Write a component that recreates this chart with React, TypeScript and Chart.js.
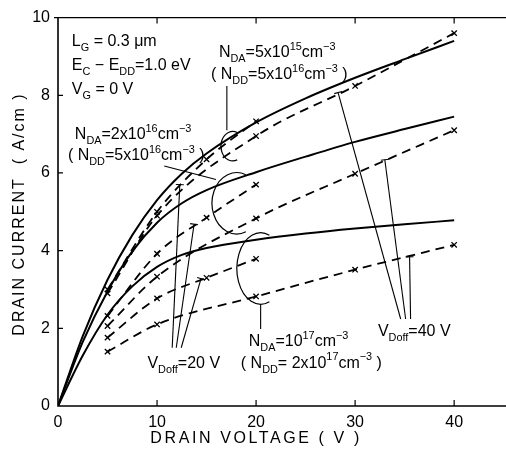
import { useEffect, useRef } from 'react';
import { Chart, registerables } from 'chart.js';

Chart.register(...registerables);

// ---- data (A/cm vs V) ----
const xTickValues = [0, 10, 20, 30, 40];
const yTickValues = [0, 2, 4, 6, 8, 10];

const solidX = [0, 2.5, 5, 7.5, 10, 12.5, 15, 20, 25, 30, 35, 40];
const solidNDA5e15 = [0, 1.8, 3.25, 4.4, 5.3, 5.98, 6.5, 7.3, 7.92, 8.45, 8.93, 9.4];
const solidNDA2e16 = [0, 1.65, 2.95, 3.98, 4.72, 5.22, 5.56, 6.02, 6.42, 6.8, 7.13, 7.45];
const solidNDA1e17 = [0, 1.3, 2.35, 3.08, 3.58, 3.89, 4.07, 4.28, 4.44, 4.57, 4.68, 4.78];

const voff20X = [5, 10, 15, 20];
const voff20NDA5e15 = [3.0, 5.0, 6.35, 7.33];
const voff20NDA2e16 = [2.32, 3.92, 4.85, 5.7];
const voff20NDA1e17 = [1.76, 2.77, 3.3, 3.79];

const voff40X = [5, 10, 20, 30, 40];
const voff40NDA5e15 = [2.9, 4.9, 6.95, 8.24, 9.6];
const voff40NDA2e16 = [2.06, 3.33, 4.83, 5.98, 7.1];
const voff40NDA1e17 = [1.4, 2.1, 2.82, 3.51, 4.15];

const FONT = '"Liberation Sans", "DejaVu Sans", sans-serif';

type Seg = [string, number]; // 0 normal, 1 subscript, 2 superscript

// annotation layout (in data units)
const texts: { x: number; y: number; segs: Seg[] }[] = [
  { x: 1.4, y: 9.26, segs: [['L', 0], ['G', 1], [' = 0.3 μm', 0]] },
  { x: 1.4, y: 8.65, segs: [['E', 0], ['C', 1], [' − E', 0], ['DD', 1], ['=1.0 eV', 0]] },
  { x: 1.4, y: 8.04, segs: [['V', 0], ['G', 1], [' = 0 V', 0]] },
  { x: 16.25, y: 8.98, segs: [['N', 0], ['DA', 1], ['=5x10', 0], ['15', 2], ['cm', 0], ['−3', 2]] },
  { x: 15.45, y: 8.42, segs: [['( N', 0], ['DD', 1], ['=5x10', 0], ['16', 2], ['cm', 0], ['−3', 2], [' )', 0]] },
  { x: 1.7, y: 6.87, segs: [['N', 0], ['DA', 1], ['=2x10', 0], ['16', 2], ['cm', 0], ['−3', 2]] },
  { x: 1.0, y: 6.34, segs: [['( N', 0], ['DD', 1], ['=5x10', 0], ['16', 2], ['cm', 0], ['−3', 2], [' )', 0]] },
  { x: 19.26, y: 1.55, segs: [['N', 0], ['DA', 1], ['=10', 0], ['17', 2], ['cm', 0], ['−3', 2]] },
  { x: 18.46, y: 0.99, segs: [['( N', 0], ['DD', 1], ['= 2x10', 0], ['17', 2], ['cm', 0], ['−3', 2], [' )', 0]] },
  { x: 9.03, y: 0.99, segs: [['V', 0], ['Doff', 1], ['=20 V', 0]] },
  { x: 32.3, y: 1.81, segs: [['V', 0], ['Doff', 1], ['=40 V', 0]] },
];

// leader lines [x1,y1,x2,y2, tickAtEnd]
const leaders: [number, number, number, number, boolean][] = [
  [17.05, 8.24, 17.05, 7.1, false],
  [10.73, 6.18, 15.95, 5.83, false],
  [20.46, 2.62, 20.46, 1.98, false],
  [11.53, 1.5, 12.3, 5.7, true],
  [11.94, 1.5, 13.74, 4.68, true],
  [12.44, 1.5, 14.44, 3.28, true],
  [34.6, 2.24, 28.28, 8.07, true],
  [35.1, 2.24, 33.0, 6.34, true],
  [35.6, 2.24, 35.5, 3.84, true],
];

// brackets: center x, center y, rx, ry (data units)
const brackets: [number, number, number, number][] = [
  [17.65, 6.69, 1.2, 0.38],
  [18.05, 5.22, 2.5, 0.79],
  [20.46, 3.54, 2.4, 0.92],
];

function drawRich(ctx: CanvasRenderingContext2D, segs: Seg[], x: number, y: number, size: number) {
  let cx = x;
  ctx.textAlign = 'left';
  ctx.textBaseline = 'alphabetic';
  for (const [t, k] of segs) {
    const fs = k ? size * 0.68 : size;
    ctx.font = `${fs}px ${FONT}`;
    const dy = k === 1 ? size * 0.32 : k === 2 ? -size * 0.45 : 0;
    ctx.fillText(t, cx, y + dy);
    cx += ctx.measureText(t).width;
  }
}

const annotPlugin = {
  id: 'annot',
  beforeDraw(chart: any) {
    const { ctx, width, height } = chart;
    ctx.save();
    ctx.fillStyle = '#fff';
    ctx.fillRect(0, 0, width, height);
    ctx.restore();
  },
  afterDraw(chart: any) {
    const { ctx, chartArea: ca, scales } = chart;
    const xs = scales.x, ys = scales.y;
    const X = (v: number) => xs.getPixelForValue(v);
    const Y = (v: number) => ys.getPixelForValue(v);
    ctx.save();
    ctx.strokeStyle = '#000';
    ctx.fillStyle = '#000';
    // axes
    ctx.lineWidth = 1.6;
    ctx.beginPath();
    ctx.moveTo(ca.left, ca.top);
    ctx.lineTo(ca.left, ca.bottom);
    ctx.lineTo(chart.width, ca.bottom);
    ctx.stroke();
    ctx.lineWidth = 1.2;
    ctx.beginPath();
    ctx.moveTo(ca.left - 4, ca.top);
    ctx.lineTo(chart.width, ca.top);
    ctx.stroke();
    // inner ticks
    ctx.lineWidth = 1.2;
    ctx.beginPath();
    for (const v of xTickValues) {
      if (v === 0) continue;
      ctx.moveTo(X(v), ca.bottom);
      ctx.lineTo(X(v), ca.bottom - 6);
      ctx.moveTo(X(v), ca.top);
      ctx.lineTo(X(v), ca.top + 6);
    }
    for (const v of yTickValues) {
      if (v === 0 || v === 10) continue;
      ctx.moveTo(ca.left, Y(v));
      ctx.lineTo(ca.left + 5, Y(v));
    }
    ctx.stroke();

    // leaders
    ctx.lineWidth = 1.1;
    for (const [x1, y1, x2, y2, t] of leaders) {
      const px1 = X(x1), py1 = Y(y1), px2 = X(x2), py2 = Y(y2);
      ctx.beginPath();
      ctx.moveTo(px1, py1);
      ctx.lineTo(px2, py2);
      ctx.stroke();
      if (t) {
        const dx = px2 - px1, dy = py2 - py1;
        const len = Math.hypot(dx, dy);
        const nx = -dy / len, ny = dx / len;
        ctx.beginPath();
        ctx.moveTo(px2 - nx * 4, py2 - ny * 4);
        ctx.lineTo(px2 + nx * 4, py2 + ny * 4);
        ctx.stroke();
      }
    }
    // brackets
    ctx.lineWidth = 1.2;
    for (const [cx, cy, rx, ry] of brackets) {
      const pcx = X(cx), pcy = Y(cy);
      const prx = X(cx + rx) - pcx, pry = Y(cy - ry) - pcy;
      ctx.beginPath();
      ctx.ellipse(pcx, pcy, prx, pry, 0, Math.PI * 0.38, Math.PI * 1.62);
      ctx.stroke();
    }
    // texts
    for (const t of texts) drawRich(ctx, t.segs, X(t.x), Y(t.y), 16);

    // axis titles
    ctx.font = `16px ${FONT}`;
    (ctx as any).letterSpacing = '2.6px';
    ctx.textAlign = 'center';
    ctx.textBaseline = 'middle';
    ctx.fillText('DRAIN VOLTAGE ( V )', (X(10) + X(30)) / 2, 439);
    ctx.save();
    ctx.translate(20, 214);
    ctx.rotate(-Math.PI / 2);
    (ctx as any).letterSpacing = '2px';
    ctx.fillText('DRAIN CURRENT  ( A/cm )', 0, 0);
    ctx.restore();
    (ctx as any).letterSpacing = '0px';
    ctx.restore();
  },
};

function pts(xs: number[], ys: number[]) {
  return xs.map((x, i) => ({ x, y: ys[i] }));
}

export default function App() {
  const ref = useRef<HTMLCanvasElement>(null);
  useEffect(() => {
    if (!ref.current) return;
    const solid = (d: number[]) => ({
      data: pts(solidX, d),
      borderColor: '#000',
      borderWidth: 2,
      pointRadius: 0,
      cubicInterpolationMode: 'monotone' as const,
      fill: false,
    });
    const dashed = (xs: number[], d: number[]) => ({
      data: pts(xs, d),
      borderColor: '#000',
      borderWidth: 1.8,
      borderDash: [9, 6],
      pointStyle: 'crossRot' as const,
      pointRadius: 3.8,
      pointBorderWidth: 1.3,
      pointBorderColor: '#000',
      cubicInterpolationMode: 'monotone' as const,
      fill: false,
    });
    const tickFont = { family: FONT, size: 16 };
    const chart = new Chart(ref.current, {
      type: 'line',
      data: {
        datasets: [
          solid(solidNDA5e15),
          solid(solidNDA2e16),
          solid(solidNDA1e17),
          dashed(voff20X, voff20NDA5e15),
          dashed(voff20X, voff20NDA2e16),
          dashed(voff20X, voff20NDA1e17),
          dashed(voff40X, voff40NDA5e15),
          dashed(voff40X, voff40NDA2e16),
          dashed(voff40X, voff40NDA1e17),
        ] as any,
      },
      options: {
        animation: false,
        responsive: true,
        maintainAspectRatio: false,
        layout: { padding: { top: 13, right: 2, left: 0, bottom: 0 } },
        plugins: { legend: { display: false }, tooltip: { enabled: false } },
        scales: {
          x: {
            type: 'linear',
            min: 0,
            max: 44.7,
            afterBuildTicks: (s: any) => {
              s.ticks = xTickValues.map((v) => ({ value: v }));
            },
            afterFit: (s: any) => {
              s.height = 45;
            },
            grid: { display: false, drawTicks: false },
            border: { display: false },
            ticks: { padding: 7, color: '#000', font: tickFont, maxRotation: 0 },
          },
          y: {
            type: 'linear',
            min: 0,
            max: 10,
            afterBuildTicks: (s: any) => {
              s.ticks = yTickValues.map((v) => ({ value: v }));
            },
            afterFit: (s: any) => {
              s.width = 58;
            },
            grid: { display: false, drawTicks: false },
            border: { display: false },
            ticks: { padding: 8, color: '#000', font: tickFont },
          },
        },
      },
      plugins: [annotPlugin],
    });
    return () => chart.destroy();
  }, []);
  return (
    <div style={{ position: 'fixed', left: 0, top: 0, width: 506, height: 451, background: '#fff' }}>
      <canvas ref={ref} />
    </div>
  );
}
